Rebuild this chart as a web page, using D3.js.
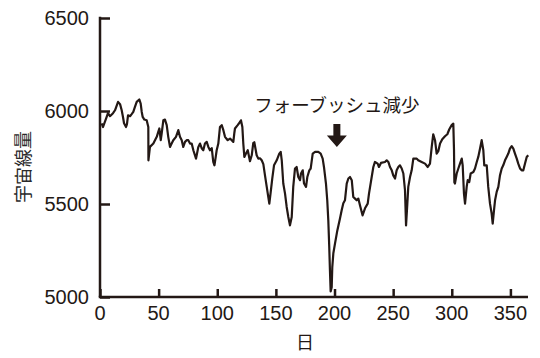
<!DOCTYPE html>
<html>
<head>
<meta charset="utf-8">
<script src="https://cdn.jsdelivr.net/npm/d3@7"></script>
<style>
  html, body { margin: 0; padding: 0; background: #fff; }
  svg { display: block; }
  text { fill: #231815; }
</style>
</head>
<body>
<svg id="chart" width="540" height="358"></svg>
<script>
// Daily cosmic-ray counts over one year
const days = [
  1.4, 2.6, 5.7, 6.8, 8.5, 11.1, 12.8, 15.4, 17.1, 18.5, 19.6, 20.5, 22.2, 23.0, 23.9, 25.6, 27.0, 28.4, 29.8, 31.3,
  33.5, 34.7, 35.6, 36.4, 37.8, 39.8, 41.2, 41.3, 42.6, 45.5, 48.4, 49.7, 50.6, 51.8, 52.6, 54.0, 55.4, 56.9, 58.2, 59.7,
  61.1, 62.5, 64.8, 66.8, 68.2, 69.7, 71.0, 72.5, 73.9, 75.3, 76.8, 78.2, 79.6, 81.9, 83.8, 85.3, 86.7, 88.1, 89.5, 91.0,
  92.4, 93.8, 95.3, 96.6, 97.6, 98.7, 99.5, 100.9, 102.3, 103.8, 105.2, 106.6, 108.9, 110.9, 112.3, 113.7, 114.5, 115.1, 117.4, 119.4,
  120.2, 121.4, 122.2, 123.1, 124.5, 126.0, 127.9, 129.4, 130.7, 131.6, 133.6, 135.0, 136.4, 137.9, 139.3, 140.7, 142.2, 143.5, 144.4, 145.6,
  146.9, 148.4, 150.7, 152.9, 154.1, 155.0, 156.3, 157.8, 159.2, 160.6, 162.0, 163.5, 164.8, 166.3, 167.7, 169.1, 170.6, 171.4, 172.9, 174.0,
  175.7, 176.8, 178.5, 179.7, 181.4, 183.4, 186.2, 188.2, 189.9, 191.0, 192.7, 193.8, 194.7, 195.5, 196.1, 196.7, 197.6, 198.1, 199.0, 200.4,
  202.4, 204.7, 206.1, 207.5, 208.9, 210.4, 211.8, 213.2, 214.7, 216.0, 217.5, 218.9, 220.3, 221.7, 223.9, 226.0, 228.3, 229.4, 231.7, 233.1,
  234.5, 236.8, 237.9, 239.6, 243.0, 244.5, 245.9, 247.3, 248.8, 250.1, 251.6, 253.0, 254.4, 255.8, 257.3, 258.7, 260.1, 261.0, 262.1, 262.9,
  264.4, 265.8, 267.2, 270.1, 271.4, 274.3, 277.2, 279.5, 281.4, 282.9, 284.2, 285.7, 287.1, 288.5, 290.0, 291.9, 294.2, 296.2, 297.9, 299.9,
  301.3, 301.9, 302.2, 302.7, 304.2, 305.6, 307.0, 308.5, 309.3, 310.4, 311.3, 312.7, 313.6, 314.9, 316.1, 318.4, 319.8, 321.3, 322.6, 324.1,
  325.5, 326.9, 327.7, 329.8, 331.1, 332.6, 334.0, 334.9, 336.0, 336.9, 338.3, 339.7, 341.1, 342.6, 343.9, 345.4, 346.8, 348.2, 349.6, 351.1,
  352.5, 353.9, 355.4, 356.7, 358.2, 359.6, 361.0, 362.4, 363.9, 365.2
];
const counts = [
  5933, 5914, 5968, 5988, 5972, 5988, 6004, 6049, 6037, 6004, 5968, 5934, 5914, 5929, 5977, 5972, 5983, 5995, 6022, 6049,
  6062, 6040, 5995, 5968, 5954, 5950, 5914, 5735, 5807, 5825, 5861, 5888, 5906, 5843, 5879, 5950, 5954, 5924, 5861, 5807,
  5825, 5843, 5861, 5897, 5861, 5843, 5807, 5834, 5843, 5843, 5825, 5825, 5789, 5744, 5805, 5825, 5800, 5789, 5825, 5834,
  5807, 5789, 5800, 5726, 5708, 5753, 5789, 5825, 5914, 5924, 5897, 5861, 5843, 5852, 5843, 5834, 5879, 5906, 5924, 5941,
  5950, 5914, 5825, 5753, 5771, 5789, 5730, 5762, 5827, 5832, 5762, 5744, 5746, 5735, 5714, 5654, 5592, 5538, 5502, 5565,
  5637, 5708, 5735, 5771, 5780, 5735, 5610, 5556, 5484, 5430, 5385, 5430, 5592, 5691, 5699, 5645, 5628, 5664, 5681, 5610,
  5592, 5645, 5681, 5691, 5771, 5780, 5780, 5771, 5744, 5699, 5610, 5520, 5412, 5269, 5143, 5030, 5053, 5161, 5235, 5287,
  5358, 5423, 5466, 5504, 5520, 5610, 5637, 5645, 5628, 5538, 5529, 5520, 5529, 5493, 5439, 5477, 5502, 5556, 5645, 5699,
  5726, 5717, 5699, 5721, 5726, 5735, 5726, 5699, 5681, 5654, 5637, 5681, 5699, 5708, 5691, 5664, 5574, 5385, 5502, 5592,
  5645, 5681, 5744, 5744, 5735, 5726, 5717, 5699, 5717, 5807, 5875, 5843, 5771, 5784, 5825, 5848, 5864, 5875, 5902, 5924,
  5932, 5789, 5617, 5610, 5664, 5691, 5717, 5744, 5708, 5556, 5502, 5592, 5628, 5618, 5664, 5672, 5691, 5726, 5753, 5798,
  5843, 5789, 5708, 5708, 5592, 5502, 5448, 5395, 5466, 5520, 5565, 5592, 5654, 5691, 5708, 5735, 5753, 5771, 5798, 5811,
  5798, 5771, 5744, 5717, 5691, 5681, 5681, 5717, 5753, 5762
];

const xTicks = [0, 50, 100, 150, 200, 250, 300, 350];
const yTicks = [5000, 5500, 6000, 6500];

const xLabel = "日";
const yLabel = "宇宙線量";
const eventLabel = "フォーブッシュ減少";
const eventDay = 202;

const ink = "#231815";
const latin = "'Liberation Sans', Arial, Helvetica, sans-serif";
const cjk = "'Noto Sans CJK JP', 'Noto Sans', sans-serif";

const svg = d3.select("#chart");

const x = d3.scaleLinear().domain([0, 365]).range([100, 528]);
const y = d3.scaleLinear().domain([5000, 6500]).range([297, 18]);

// Series line
const points = days.map((d, i) => [d, counts[i]]);
const line = d3.line().x(d => x(d[0])).y(d => y(d[1]));

svg.append("path")
  .datum(points)
  .attr("fill", "none")
  .attr("stroke", ink)
  .attr("stroke-width", 2.2)
  .attr("stroke-linejoin", "round")
  .attr("d", line);

// Axes with inward ticks
const xAxis = svg.append("g")
  .attr("transform", `translate(0,${y(5000)})`)
  .call(d3.axisTop(x).tickValues(xTicks).tickSize(8).tickFormat(""));
const yAxis = svg.append("g")
  .attr("transform", `translate(${x(0)},0)`)
  .call(d3.axisRight(y).tickValues(yTicks).tickSize(10).tickFormat(""));

[xAxis, yAxis].forEach(g => {
  g.select(".domain").attr("stroke", ink).attr("stroke-width", 2.5);
  g.selectAll(".tick line").attr("stroke", ink).attr("stroke-width", 2.5);
});
// square off the corner and remove the default outer ticks
xAxis.select(".domain").attr("d", `M${x(0) - 1.25},0H${x(365)}`);
yAxis.select(".domain").attr("d", `M0,${y(5000)}V${y(6500) - 1.25}`);

// Tick labels
svg.append("g").selectAll("text")
  .data(xTicks).join("text")
  .attr("x", d => x(d))
  .attr("y", 320)
  .attr("text-anchor", "middle")
  .attr("font-family", latin)
  .attr("font-size", 20)
  .text(d => d);

svg.append("g").selectAll("text")
  .data(yTicks).join("text")
  .attr("x", 89)
  .attr("y", d => y(d) + 7)
  .attr("text-anchor", "end")
  .attr("font-family", latin)
  .attr("font-size", 20)
  .text(d => d);

// Axis titles
svg.append("text")
  .attr("x", 305)
  .attr("y", 349)
  .attr("text-anchor", "middle")
  .attr("font-family", cjk)
  .attr("font-size", 18)
  .text(xLabel);

svg.append("text")
  .attr("transform", "translate(22,167) rotate(-90)")
  .attr("text-anchor", "middle")
  .attr("dominant-baseline", "central")
  .attr("font-family", cjk)
  .attr("font-size", 18)
  .style("fill", "#2a2a2a")
  .text(yLabel);

// Forbush decrease annotation
const ax = x(eventDay);
svg.append("text")
  .attr("x", ax)
  .attr("y", 112)
  .attr("text-anchor", "middle")
  .attr("font-family", cjk)
  .attr("font-size", 18.5)
  .text(eventLabel);

svg.append("path")
  .attr("fill", ink)
  .attr("d", `M${ax - 3.5},124 H${ax + 3.5} V135.5 H${ax + 10} L${ax},147 L${ax - 10},135.5 H${ax - 3.5} Z`);
</script>
</body>
</html>
